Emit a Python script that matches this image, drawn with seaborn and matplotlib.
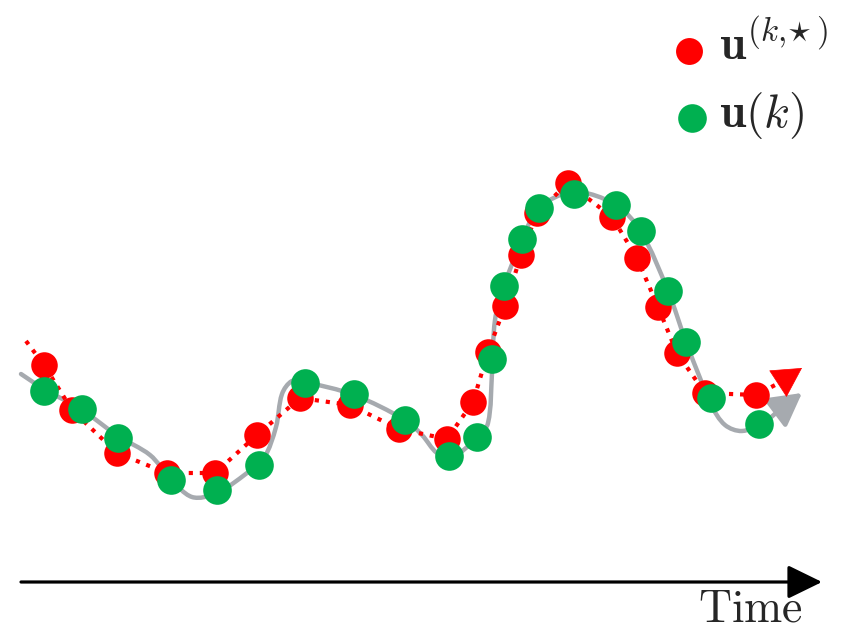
import numpy as np
import pandas as pd
import matplotlib
matplotlib.use("Agg")
import matplotlib.pyplot as plt
from matplotlib.path import Path
from matplotlib.patches import FancyArrowPatch
import seaborn as sns

# ---- data -------------------------------------------------------------
# optimal (reference) input samples u^(k,*)
opt_t = [44, 72, 117, 167, 215, 257, 300, 350, 399, 447, 473, 488,
         505, 521, 537, 568, 612, 637, 658, 677, 705, 756]
opt_u = [269, 224, 181, 161, 161, 199, 236, 229, 205, 195, 232, 282,
         328, 379, 421, 451, 417, 376, 327, 281, 241, 239]

# applied input samples u(k)
app_t = [44, 82, 118, 171, 217, 259, 305, 354, 405, 449, 477, 492,
         504, 522, 539, 574, 616, 641, 668, 686, 711, 759]
app_u = [243, 225, 196, 154, 144, 169, 251, 240, 214, 178, 197, 275,
         348, 395, 426, 440, 429, 403, 343, 292, 236, 210]

# lead-in / lead-out of the dotted optimal trajectory
opt_line_t = [26] + opt_t + [779]
opt_line_u = [293] + opt_u + [251]
opt_tip = (802, 266)

# continuous input trajectory (knots of the smooth curve)
cont_t = [21, 44, 82, 118, 150, 170, 192, 217, 247, 264, 276, 282, 292,
          305, 354, 405, 422, 437, 452, 477, 488, 492, 495, 504, 522, 539,
          574, 616, 641, 668, 686, 700, 711, 725, 742, 763, 782, 802]
cont_u = [260, 245, 224, 198, 179, 156, 137, 141, 161, 176, 207, 240, 253,
          252, 239, 214, 199, 181, 177, 196, 211, 261, 314, 348, 394, 426,
          442, 429, 402, 343, 292, 256, 229, 209, 203, 211, 226, 241]

labels = [r"$\mathbf{u}^{(k{,}\!\star)}$", r"$\mathbf{u}(k)$"]
time_label = r"$\mathrm{Time}$"

RED = "#FF0000"
GREEN = "#00B050"
GRAY = "#A6AAAF"

# ---- style ------------------------------------------------------------
sns.set_theme(style="white")
plt.rcParams["mathtext.fontset"] = "cm"

fig = plt.figure(figsize=(8.5, 6.34), dpi=100)
ax = fig.add_axes([0, 0, 1, 1])
ax.set_xlim(0, 850)
ax.set_ylim(0, 634)
ax.axis("off")


def smooth_path(xs, ys):
    """Chord-length cubic Bezier path through the given knots."""
    p = np.column_stack([xs, ys]).astype(float)
    d = np.linalg.norm(np.diff(p, axis=0), axis=1)
    m = np.zeros_like(p)
    m[0] = (p[1] - p[0]) / d[0]
    m[-1] = (p[-1] - p[-2]) / d[-1]
    for i in range(1, len(p) - 1):
        m[i] = (p[i + 1] - p[i - 1]) / (d[i - 1] + d[i])
    verts = [p[0]]
    codes = [Path.MOVETO]
    for i in range(len(p) - 1):
        verts += [p[i] + m[i] * d[i] / 3, p[i + 1] - m[i + 1] * d[i] / 3, p[i + 1]]
        codes += [Path.CURVE4] * 3
    return Path(np.array(verts), codes)


HEAD = "-|>,head_length=0.4,head_width=0.22"

# continuous trajectory with arrow head
cont = FancyArrowPatch(path=smooth_path(cont_t, cont_u),
                       arrowstyle=HEAD, mutation_scale=50, lw=3.2,
                       color=GRAY, transform=ax.transData, zorder=1)
ax.add_patch(cont)

# dotted optimal trajectory
line_df = pd.DataFrame({"t": opt_line_t, "u": opt_line_u})
sns.lineplot(data=line_df, x="t", y="u", sort=False, estimator=None,
             color=RED, lw=3, linestyle=":", ax=ax, zorder=2)
ax.annotate("", xy=opt_tip, xytext=(opt_line_t[-1], opt_line_u[-1]),
            arrowprops=dict(arrowstyle=HEAD, mutation_scale=50, lw=0.5,
                            color=RED, shrinkA=0, shrinkB=0),
            zorder=2)

# samples
sns.scatterplot(x=opt_t, y=opt_u, s=365, color=RED, linewidth=0,
                ax=ax, zorder=3, legend=False)
sns.scatterplot(x=app_t, y=app_u, s=425, color=GREEN, linewidth=0,
                ax=ax, zorder=4, legend=False)

# key
ax.scatter([689], [583], s=375, color=RED, linewidth=0, zorder=5)
ax.scatter([692], [516], s=425, color=GREEN, linewidth=0, zorder=5)
ax.text(719, 574, labels[0], fontsize=34, ha="left", va="baseline")
ax.text(719, 507, labels[1], fontsize=34, ha="left", va="baseline")

# time axis
ax.annotate("", xy=(822, 52), xytext=(21, 52),
            arrowprops=dict(arrowstyle="-|>,head_length=0.45,head_width=0.22",
                            mutation_scale=47, lw=2.3, color="black",
                            shrinkA=0, shrinkB=0))
ax.text(803, 12, time_label, fontsize=33, ha="right", va="baseline")

fig.savefig("out.png", dpi=100)
